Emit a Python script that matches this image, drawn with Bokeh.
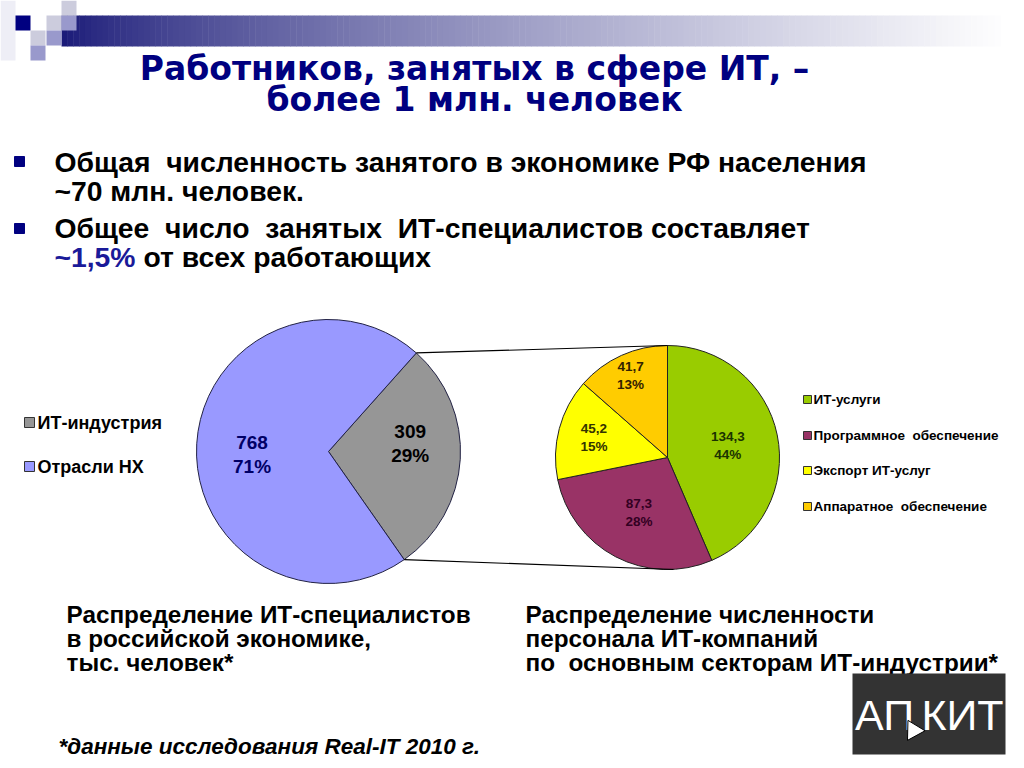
import math
from bokeh.plotting import figure
from bokeh.models import Range1d
from bokeh.embed import file_html
from bokeh.resources import INLINE
from bokeh.core.properties import value

# ---------------- data ----------------
title_lines = ["Работников, занятых в сфере ИТ, –", "более 1 млн. человек"]
bullet1 = ["Общая  численность занятого в экономике РФ населения", "~70 млн. человек."]
bullet2 = ["Общее  число  занятых  ИТ-специалистов составляет"]
bullet2_accent = "~1,5%"
bullet2_rest = "от всех работающих"

left_labels = ["ИТ-индустрия", "Отрасли НХ"]
left_values = [309, 768]
left_value_text = ["309", "768"]
left_pcts = ["29%", "71%"]

right_labels = ["ИТ-услуги", "Программное  обеспечение", "Экспорт ИТ-услуг", "Аппаратное  обеспечение"]
right_values = [134.3, 87.3, 45.2, 41.7]
right_value_text = ["134,3", "87,3", "45,2", "41,7"]
right_pcts = ["44%", "28%", "15%", "13%"]

caption_left = ["Распределение ИТ-специалистов", "в российской экономике,", "тыс. человек*"]
caption_right = ["Распределение численности", "персонала ИТ-компаний", "по  основным секторам ИТ-индустрии*"]
footnote = "*данные исследования Real-IT 2010 г."
logo_parts = ["АП", "КИТ"]

# ---------------- styles ----------------
LEFT_COLORS = ["#969696", "#9999FF"]
LEFT_TEXT = ["#000000", "#000066"]
RIGHT_COLORS = ["#99CC00", "#993366", "#FFFF00", "#FFCC00"]
RIGHT_TEXT = ["#1a3300", "#330022", "#333300", "#332200"]
NAVY = "#000080"
SANS = value("Liberation Sans")


def Y(ry):
    return 768 - ry


def keep_spaces(lines):
    return [s.replace("  ", " \u00a0") for s in lines]


p = figure(width=1024, height=768, x_range=Range1d(0, 1024), y_range=Range1d(0, 768),
           x_axis_type=None, y_axis_type=None, toolbar_location=None,
           output_backend="svg", min_border=0)
p.grid.visible = False
p.outline_line_color = None
p.background_fill_color = "white"

# ---------------- header decoration ----------------
n = 160
x0, x1 = 61, 1000
lefts, rights, cols = [], [], []
for i in range(n):
    t = i / n
    tt = t ** 0.75
    r = int(26 + (255 - 26) * tt)
    g = int(26 + (255 - 26) * tt)
    b = int(120 + (255 - 120) * tt)
    lefts.append(x0 + (x1 - x0) * i / n)
    rights.append(x0 + (x1 - x0) * (i + 1) / n + 0.5)
    cols.append("#%02x%02x%02x" % (r, g, b))
p.quad(left=lefts, right=rights, top=[Y(15)] * n, bottom=[Y(46)] * n, fill_color=cols, line_color=None)

p.quad(left=[0], right=[15], top=[Y(0)], bottom=[Y(60)], fill_color="#eeeef6", line_color=None)
sq_l = [15, 46, 61, 61, 30, 46, 30]
sq_t = [15, 15, 15, 0, 30, 30, 45]
sq_c = [NAVY, "#ccccdd", "#9999cc", "#ccccdd", "#ccccdd", "#9999cc", "#9999cc"]
p.quad(left=sq_l, right=[v + 15 for v in sq_l], top=[Y(v) for v in sq_t],
       bottom=[Y(v + 15) for v in sq_t], fill_color=sq_c, line_color=None)

# ---------------- title ----------------
p.text(x=[474, 474], y=[Y(68), Y(99)], text=title_lines, text_align="center", text_baseline="middle",
       text_font=value("DejaVu Sans"), text_font_style="bold", text_font_size="33px", text_color=NAVY)

# ---------------- bullets ----------------
p.scatter(x=[19, 19], y=[Y(161), Y(228)], marker="square", size=10, fill_color=NAVY, line_color=NAVY)
p.text(x=[54, 54, 54], y=[Y(161), Y(190), Y(227)], text=keep_spaces(bullet1 + bullet2),
       text_baseline="middle", text_font=SANS, text_font_style="bold", text_font_size="28.3px",
       text_color="black")
p.text(x=[54], y=[Y(256)], text=[bullet2_accent], text_baseline="middle",
       text_font=SANS, text_font_style="bold", text_font_size="28.3px", text_color="#1a1a99")
p.text(x=[143], y=[Y(256)], text=[bullet2_rest], text_baseline="middle",
       text_font=SANS, text_font_style="bold", text_font_size="28.3px", text_color="black")

# ---------------- left pie ----------------
LCX, LCY, LR = 328, Y(451), 132
ltot = sum(left_values)
g_start = -55.0
spans = [v / ltot * 360 for v in left_values]
l_starts = [g_start, g_start + spans[0]]
l_ends = [g_start + spans[0], g_start + spans[0] + spans[1]]
p.wedge(x=[LCX] * 2, y=[LCY] * 2, radius=LR, start_angle=l_starts, end_angle=l_ends,
        start_angle_units="deg", end_angle_units="deg", fill_color=LEFT_COLORS,
        line_color="#222244", line_width=1)
l_fac = [0.62, 0.58]
l_dy = [13, -7]
for i in range(2):
    mid = math.radians((l_starts[i] + l_ends[i]) / 2)
    cx = LCX + l_fac[i] * LR * math.cos(mid)
    cy = LCY + l_fac[i] * LR * math.sin(mid) + l_dy[i]
    p.text(x=[cx, cx], y=[cy + 12, cy - 12], text=[left_value_text[i], left_pcts[i]],
           text_align="center", text_baseline="middle", text_font=SANS, text_font_style="bold",
           text_font_size="19px", text_color=LEFT_TEXT[i])

# ---------------- right pie ----------------
RCX, RCY, RR = 667, Y(457), 112
rtot = sum(right_values)
cum = 0
r_starts, r_ends = [], []
for v in right_values:
    a0 = 90 - cum / rtot * 360
    cum += v
    a1 = 90 - cum / rtot * 360
    r_starts.append(a1)
    r_ends.append(a0)
p.wedge(x=[RCX] * 4, y=[RCY] * 4, radius=RR, start_angle=r_starts, end_angle=r_ends,
        start_angle_units="deg", end_angle_units="deg", fill_color=RIGHT_COLORS,
        line_color="#222222", line_width=1)
r_fac = [0.55, 0.55, 0.68, 0.8]
for i in range(4):
    mid = math.radians((r_starts[i] + r_ends[i]) / 2)
    cx = RCX + r_fac[i] * RR * math.cos(mid)
    cy = RCY + r_fac[i] * RR * math.sin(mid)
    p.text(x=[cx, cx], y=[cy + 9, cy - 9], text=[right_value_text[i], right_pcts[i]],
           text_align="center", text_baseline="middle", text_font=SANS, text_font_style="bold",
           text_font_size="13.5px", text_color=RIGHT_TEXT[i])

# ---------------- connector lines ----------------
ga0, ga1 = math.radians(l_starts[0]), math.radians(l_ends[0])
p.line(x=[LCX + LR * math.cos(ga1), RCX], y=[LCY + LR * math.sin(ga1), RCY + RR], line_color="black", line_width=1.2)
p.line(x=[LCX + LR * math.cos(ga0), RCX + 6], y=[LCY + LR * math.sin(ga0), RCY - RR], line_color="black", line_width=1.2)

# ---------------- legends ----------------
p.scatter(x=[29, 29], y=[Y(422), Y(466)], marker="square", size=10, fill_color=LEFT_COLORS,
          line_color="#333333")
p.text(x=[37, 37], y=[Y(422), Y(466)], text=left_labels, text_baseline="middle", text_font=SANS,
       text_font_style="bold", text_font_size="18px", text_color="black")

ry = [Y(399), Y(435), Y(470), Y(506)]
p.scatter(x=[807] * 4, y=ry, marker="square", size=8, fill_color=RIGHT_COLORS, line_color="#333333")
p.text(x=[813] * 4, y=ry, text=keep_spaces(right_labels), text_baseline="middle", text_font=SANS,
       text_font_style="bold", text_font_size="13.5px", text_color="black")

# ---------------- captions ----------------
cy_list = [Y(614), Y(638), Y(662)]
p.text(x=[66] * 3, y=cy_list, text=keep_spaces(caption_left), text_baseline="alphabetic", text_font=SANS,
       text_font_style="bold", text_font_size="24.3px", text_color="black")
p.text(x=[525] * 3, y=cy_list, text=keep_spaces(caption_right), text_baseline="alphabetic", text_font=SANS,
       text_font_style="bold", text_font_size="24.3px", text_color="black")
p.text(x=[58], y=[Y(746)], text=[footnote], text_baseline="alphabetic", text_font=SANS,
       text_font_style="bold italic", text_font_size="22.5px", text_color="black")

# ---------------- logo ----------------
p.quad(left=[852], right=[1005], top=[Y(673)], bottom=[Y(754)], fill_color="#333333", line_color=None)
p.text(x=[884, 962], y=[Y(714), Y(714)], text=logo_parts, text_align="center", text_baseline="middle",
       text_font=SANS, text_font_size="43px", text_color="white")
p.scatter(x=[913], y=[Y(730)], marker="triangle", size=20, angle=0.5, fill_color="white", line_color="black")

open("out.html", "w").write(file_html(p, INLINE))
